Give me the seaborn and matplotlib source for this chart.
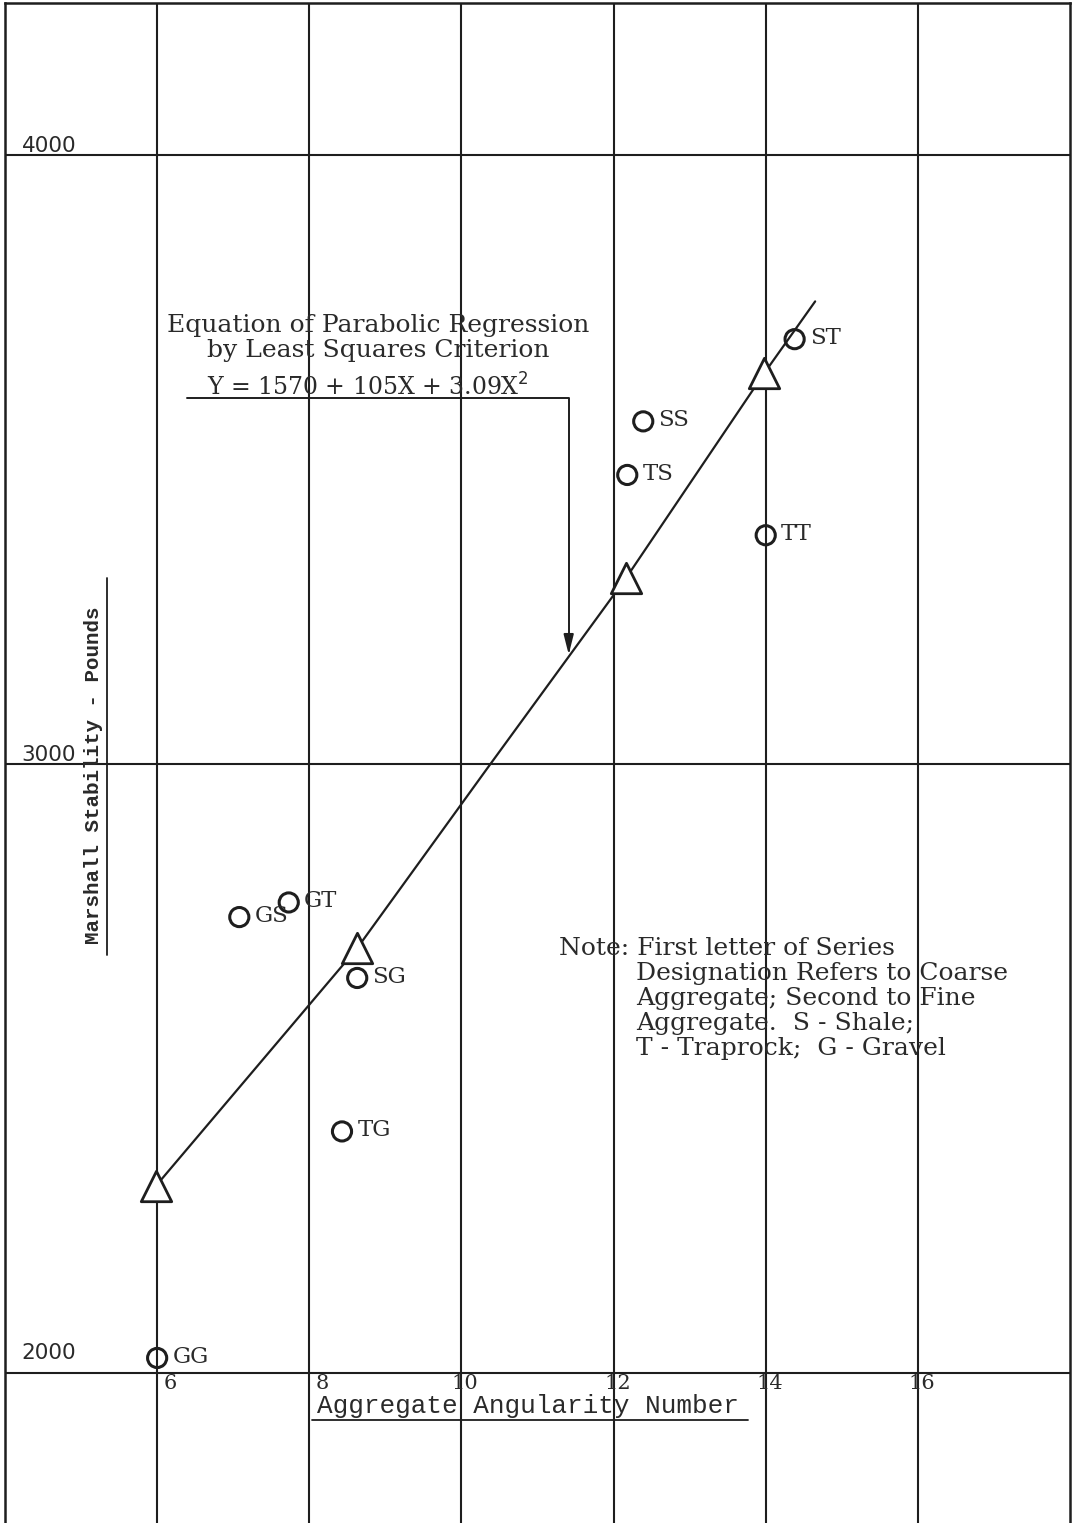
import numpy as np
import pandas as pd
import matplotlib
matplotlib.use("Agg")
import matplotlib.pyplot as plt
import seaborn as sns

sns.set_style("white")
plt.rcParams['font.family'] = ['DejaVu Serif']

# Data
series = ["ST", "SS", "TS", "TT", "GT", "GS", "SG", "TG", "GG"]
angularity = [14.38, 12.39, 12.18, 14.0, 7.73, 7.08, 8.63, 8.43, 6.0]
stability = [3698, 3563, 3475, 3376, 2773, 2749, 2649, 2397, 2025]

# regression points (triangles)
reg_x = [5.98, 8.63, 12.16, 13.98]
reg_y = [2307, 2698, 3305, 3642]

# parabolic regression curve
curve_x = [5.98, 8.63, 10.35, 12.16, 13.98, 14.65]
curve_y = [2307, 2698, 2995, 3305, 3642, 3760]

x_ticks = [6, 8, 10, 12, 14, 16]
y_ticks = [2000, 3000, 4000]

ink = "#1e1e1e"
text_col = "#2a2a2a"

fig = plt.figure(figsize=(10.76, 15.23), dpi=100)
ax = fig.add_axes([5 / 1076, 0, 1065 / 1076, 1520 / 1523])
ax.set_xlim(4, 18)
ax.set_ylim(1754, 4250)

# graph paper grid
for xv in x_ticks:
    ax.axvline(xv, color=ink, lw=1.5, zorder=1)
for yv in y_ticks:
    ax.axhline(yv, color=ink, lw=1.5, zorder=1)
for side in ["left", "top", "right"]:
    ax.spines[side].set_color(ink)
    ax.spines[side].set_linewidth(1.8)
ax.spines["bottom"].set_visible(False)
ax.set_xticks([])
ax.set_yticks([])

# regression curve and points
df_curve = pd.DataFrame({"x": curve_x, "y": curve_y})
sns.lineplot(data=df_curve, x="x", y="y", ax=ax, color=ink, lw=1.6, sort=False,
             estimator=None, zorder=3)
df_reg = pd.DataFrame({"x": reg_x, "y": reg_y})
sns.scatterplot(data=df_reg, x="x", y="y", ax=ax, marker="^", s=480,
                facecolor="white", edgecolor=ink, linewidth=2.0, zorder=4)

df = pd.DataFrame({"series": series, "x": angularity, "y": stability})
sns.scatterplot(data=df, x="x", y="y", ax=ax, marker="o", s=190,
                facecolor="none", edgecolor=ink, linewidth=2.2, zorder=4)
for name, xv, yv in zip(series, angularity, stability):
    ax.annotate(name, (xv, yv), xytext=(11, 1), textcoords="offset points",
                ha="left", va="center", fontsize=16.5, color=text_col, zorder=5)

# tick labels drawn on the paper
for yv in y_ticks:
    off = 20 if yv == 2000 else 9
    ax.text(4.22, yv + off / 0.609, str(yv), fontsize=15.5, family="DejaVu Sans",
            color=text_col, ha="left", va="center")
for xv in x_ticks:
    if xv < 10:
        ax.text(xv + 0.08, 1983, str(xv), fontsize=15, color=text_col,
                ha="left", va="center")
    else:
        ax.text(xv + 0.05, 1983, str(xv), fontsize=15, color=text_col,
                ha="center", va="center")

# axis titles (typed and underlined)
ax.text(10.87, 1946, "Aggregate Angularity Number", family="Liberation Mono",
        fontsize=18.7, color=text_col, ha="center", va="center")
ax.plot([8.04, 13.77], [1923, 1923], color=ink, lw=1.3)
ax.text(5.16, 2982, "Marshall Stability - Pounds", family="Liberation Mono",
        fontweight="bold", fontsize=15, color=text_col, ha="center", va="center",
        rotation=90)
ax.plot([5.34, 5.34], [2686, 3305], color=ink, lw=1.3)

# equation annotation
ax.text(8.90, 3721, "Equation of Parabolic Regression", fontsize=18,
        color=text_col, ha="center", va="center")
ax.text(8.90, 3680, "by Least Squares Criterion", fontsize=18,
        color=text_col, ha="center", va="center")
ax.text(6.65, 3619, r"Y = 1570 + 105X + 3.09X$^{2}$", fontsize=17,
        color=text_col, ha="left", va="center")
ax.annotate("", xy=(11.41, 3180), xytext=(6.39, 3601),
            arrowprops=dict(arrowstyle="-|>,head_length=1.2,head_width=0.3",
                            connectionstyle="angle,angleA=0,angleB=90,rad=0",
                            color=ink, lw=1.4, shrinkA=0, shrinkB=0))

# note
note_lines = ["Note: First letter of Series",
              "Designation Refers to Coarse",
              "Aggregate; Second to Fine",
              "Aggregate.  S - Shale;",
              "T - Traprock;  G - Gravel"]
ax.text(11.28, 2698, note_lines[0], fontsize=18, color=text_col,
        ha="left", va="center")
for i, line in enumerate(note_lines[1:]):
    ax.text(12.29, 2657 - 41.5 * i, line, fontsize=18, color=text_col,
            ha="left", va="center")

fig.savefig("out.png", dpi=100, facecolor="white")
